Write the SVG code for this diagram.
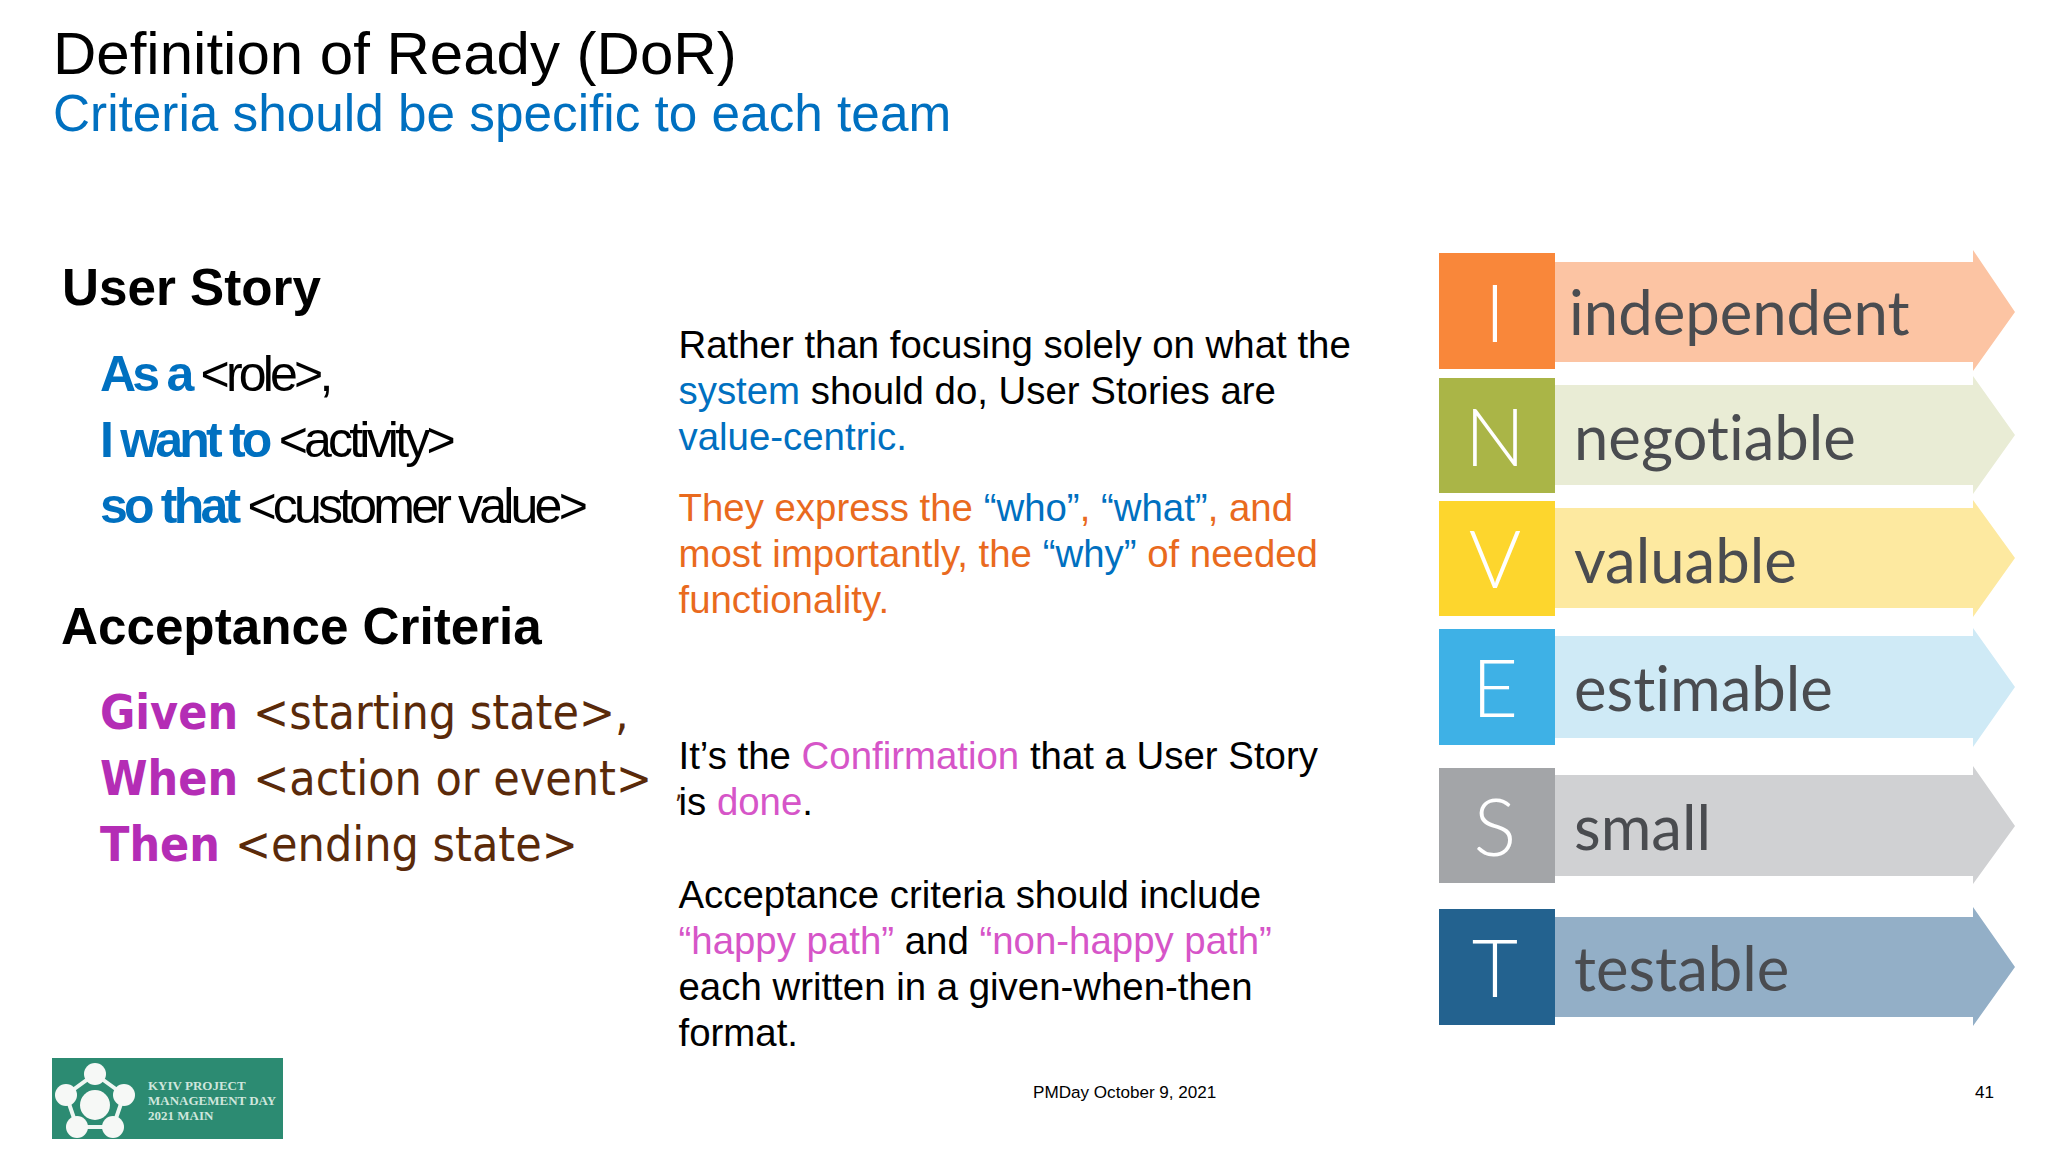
<svg xmlns="http://www.w3.org/2000/svg" width="2048" height="1152" viewBox="0 0 2048 1152">
<style>
text{font-family:"Liberation Sans",Arial,sans-serif;fill:#000}
.blue{fill:#0070c0}.or{fill:#e96a1e}.mg{fill:#d655c8}
.t1{font-size:60px}.t2{font-size:51.3px;fill:#0070c0}
.h{font-size:51.2px;font-weight:bold}
.us{font-size:50px;letter-spacing:-3.8px}
.us .blue{font-weight:bold}
.ac{font-family:"DejaVu Sans Condensed","DejaVu Sans",sans-serif;font-stretch:condensed;font-size:47.9px;fill:#5a2a0a}
.ac .p{fill:#b42db5;font-weight:bold}
.b{font-size:38.4px}
.f{font-size:17.1px}
.l{font-family:Lato,"Open Sans",sans-serif;font-weight:300;font-size:80px;fill:#fff;text-anchor:middle}
.w{font-family:Lato,"Open Sans",sans-serif;font-weight:400;font-size:61.6px;fill:#4a4c50;font-variant-ligatures:none}
.lg{font-family:"Liberation Serif",serif;font-size:13px;font-weight:bold;fill:#cfe6dc}
</style>
<rect width="2048" height="1152" fill="#fff"/>
<g id="title"><text class="t1" x="53" y="74">Definition of Ready (DoR)</text><text class="t2" x="53" y="131">Criteria should be specific to each team</text></g>
<g id="user-story">
<text class="h" x="62" y="305">User Story</text>
<text class="us" x="100" y="391"><tspan class="blue">As a </tspan>&lt;role&gt;,</text>
<text class="us" x="100" y="457"><tspan class="blue">I want to </tspan>&lt;activity&gt;</text>
<text class="us" x="100" y="523"><tspan class="blue">so that </tspan>&lt;customer value&gt;</text>
</g>
<g id="acceptance">
<text class="h" x="61" y="644">Acceptance Criteria</text>
<text class="ac" x="100" y="729"><tspan class="p">Given </tspan>&lt;starting state&gt;,</text>
<text class="ac" x="100" y="795"><tspan class="p">When </tspan>&lt;action or event&gt;</text>
<text class="ac" x="100" y="861"><tspan class="p">Then </tspan>&lt;ending state&gt;</text>
<text class="ac" x="675" y="798" style="font-size:26px">,</text>
</g>
<g id="body">
<text class="b" x="678.5" y="358">Rather than focusing solely on what the</text>
<text class="b" x="678.5" y="404"><tspan class="blue">system</tspan> should do, User Stories are</text>
<text class="b blue" x="678.5" y="450">value-centric.</text>
<text class="b or" x="678.5" y="521">They express the <tspan class="blue">“who”</tspan>, <tspan class="blue">“what”</tspan>, and</text>
<text class="b or" x="678.5" y="567">most importantly, the <tspan class="blue">“why”</tspan> of needed</text>
<text class="b or" x="678.5" y="613">functionality.</text>
<text class="b" x="678.5" y="769">It’s the <tspan class="mg">Confirmation</tspan> that a User Story</text>
<text class="b" x="678.5" y="815">is <tspan class="mg">done</tspan>.</text>
<text class="b" x="678.5" y="908">Acceptance criteria should include</text>
<text class="b" x="678.5" y="954"><tspan class="mg">“happy path”</tspan> and <tspan class="mg">“non-happy path”</tspan></text>
<text class="b" x="678.5" y="1000">each written in a given-when-then</text>
<text class="b" x="678.5" y="1046">format.</text>
</g>
<g id="invest-i"><path d="M1555 262H1973V250L2015 312L1973 371V362H1555Z" fill="#fcc4a3"/><rect x="1439" y="253" width="116" height="116" fill="#f9873a"/><text class="l" x="1495" y="342">I</text><text class="w" x="1569" y="335">independent</text></g>
<g id="invest-n"><path d="M1555 385H1973V376L2015 435L1973 494V485H1555Z" fill="#e9ecd5"/><rect x="1439" y="378" width="116" height="115" fill="#aab547"/><text class="l" x="1495" y="466">N</text><text class="w" x="1574" y="460">negotiable</text></g>
<g id="invest-v"><path d="M1555 508H1973V500L2015 558L1973 617V608H1555Z" fill="#fde9a0"/><rect x="1439" y="501" width="116" height="115" fill="#fdd62d"/><text class="l" x="1495" y="588">V</text><text class="w" x="1574" y="583">valuable</text></g>
<g id="invest-e"><path d="M1555 636H1973V628L2015 687L1973 747V738H1555Z" fill="#cfeaf6"/><rect x="1439" y="629" width="116" height="116" fill="#3eb1e6"/><text class="l" x="1495" y="717">E</text><text class="w" x="1574" y="711">estimable</text></g>
<g id="invest-s"><path d="M1555 775H1973V766L2015 826L1973 884V876H1555Z" fill="#d0d1d3"/><rect x="1439" y="768" width="116" height="115" fill="#a3a5a8"/><text class="l" x="1495" y="856">S</text><text class="w" x="1574" y="850">small</text></g>
<g id="invest-t"><path d="M1555 917H1973V907L2015 967L1973 1026V1017H1555Z" fill="#93afc7"/><rect x="1439" y="909" width="116" height="116" fill="#23628f"/><text class="l" x="1495" y="997">T</text><text class="w" x="1574" y="991">testable</text></g>
<g id="logo">
<rect x="52" y="1058" width="231" height="81" fill="#2c8b72"/>
<path d="M95 1074L124 1095L113 1127H77L66 1095Z" fill="none" stroke="#eef6f2" stroke-width="4"/>
<g fill="#f6f8f6"><circle cx="95" cy="1105" r="15"/><circle cx="95" cy="1074" r="11"/><circle cx="66" cy="1095" r="11"/><circle cx="124" cy="1095" r="11"/><circle cx="77" cy="1127" r="11"/><circle cx="113" cy="1127" r="11"/></g>
<text class="lg" x="148" y="1090">KYIV PROJECT</text><text class="lg" x="148" y="1105">MANAGEMENT DAY</text><text class="lg" x="148" y="1120">2021 MAIN</text>
</g>
<g id="footer"><text class="f" x="1033" y="1098">PMDay October 9, 2021</text><text class="f" x="1975" y="1098">41</text></g>
</svg>
